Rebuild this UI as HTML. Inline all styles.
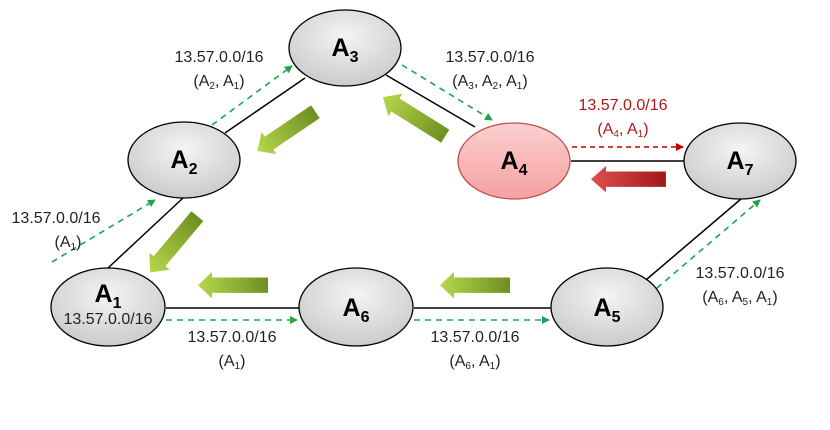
<!DOCTYPE html>
<html><head><meta charset="utf-8"><style>
body{margin:0;background:#fff}
svg text{font-family:"Liberation Sans",sans-serif}
</style></head><body>
<svg width="830" height="425" viewBox="0 0 830 425" xmlns="http://www.w3.org/2000/svg">
<defs>
<radialGradient id="g" cx="50%" cy="35%" r="70%"><stop offset="0" stop-color="#f4f4f4"/><stop offset="1" stop-color="#c8c8c8"/></radialGradient>
<linearGradient id="r" x1="0" y1="0" x2="0" y2="1"><stop offset="0" stop-color="#fbd0d0"/><stop offset="1" stop-color="#f5a0a0"/></linearGradient>
<linearGradient id="ga" x1="0" y1="0" x2="1" y2="0"><stop offset="0" stop-color="#b5d84a"/><stop offset="1" stop-color="#6f8e22"/></linearGradient>
<linearGradient id="ra" x1="0" y1="0" x2="1" y2="0"><stop offset="0" stop-color="#e05050"/><stop offset="1" stop-color="#a01818"/></linearGradient>
<marker id="mg" markerWidth="8" markerHeight="8" refX="7" refY="4" orient="auto" markerUnits="userSpaceOnUse"><path d="M0,0L8,4L0,8z" fill="#1aa84a"/></marker>
<marker id="mr" markerWidth="8" markerHeight="8" refX="7" refY="4" orient="auto" markerUnits="userSpaceOnUse"><path d="M0,0L8,4L0,8z" fill="#c00000"/></marker>
<symbol id="ba" viewBox="0 0 70 24" overflow="visible"><path d="M0,12 L14,0 L14,5 L70,5 L70,19 L14,19 L14,24 Z"/></symbol>
</defs>
<g stroke="#000" stroke-width="1.5">
<line x1="225" y1="133" x2="305" y2="78"/>
<line x1="386" y1="75" x2="475" y2="127"/>
<line x1="571" y1="161" x2="684" y2="161"/>
<line x1="741" y1="199" x2="640" y2="285"/>
<line x1="183" y1="198" x2="108" y2="268"/>
<line x1="166" y1="308" x2="299" y2="308"/>
<line x1="414" y1="308" x2="551" y2="308"/>
</g>
<g stroke="#1aa84a" stroke-width="1.6" stroke-dasharray="6,5" fill="none" marker-end="url(#mg)">
<line x1="212" y1="125" x2="292" y2="66"/>
<line x1="402" y1="65" x2="492" y2="120"/>
<line x1="52" y1="262" x2="155" y2="200"/>
<line x1="166" y1="320" x2="297" y2="320"/>
<line x1="414" y1="320" x2="549" y2="320"/>
<line x1="657" y1="288" x2="760" y2="200"/>
</g>
<line x1="572" y1="147" x2="683" y2="147" stroke="#c00000" stroke-width="1.6" stroke-dasharray="5,4" marker-end="url(#mr)"/>
<g fill="url(#ga)">
<use href="#ba" width="70" height="24" transform="translate(250,140) rotate(-34) scale(1.0,1.1)"/>
<use href="#ba" width="70" height="24" transform="translate(383,97) rotate(32) translate(0,-13) scale(1.05,1.1)"/>
<use href="#ba" width="70" height="24" transform="translate(140,264) rotate(-50) scale(1.05,1.1)"/>
<use href="#ba" width="70" height="24" transform="translate(198,272) scale(1,1.1)"/>
<use href="#ba" width="70" height="24" transform="translate(440,272) scale(1,1.1)"/>
</g>
<use href="#ba" width="70" height="24" fill="url(#ra)" transform="translate(591,166) scale(1.07,1.1)"/>
<g stroke="#000" stroke-width="1.3">
<ellipse cx="345" cy="48" rx="56" ry="38" fill="url(#g)"/>
<ellipse cx="184" cy="160" rx="56" ry="38" fill="url(#g)"/>
<ellipse cx="514" cy="161" rx="56" ry="38" fill="url(#r)" stroke="#c05050"/>
<ellipse cx="740" cy="161" rx="56" ry="38" fill="url(#g)"/>
<ellipse cx="108" cy="307" rx="57" ry="39" fill="url(#g)"/>
<ellipse cx="356" cy="307" rx="57" ry="39" fill="url(#g)"/>
<ellipse cx="607" cy="307" rx="56" ry="39" fill="url(#g)"/>
</g>
<g font-weight="bold" font-size="25" text-anchor="middle">
<text x="345" y="56">A<tspan font-size="16" dy="6">3</tspan></text>
<text x="184" y="168">A<tspan font-size="16" dy="6">2</tspan></text>
<text x="514" y="169">A<tspan font-size="16" dy="6">4</tspan></text>
<text x="740" y="169">A<tspan font-size="16" dy="6">7</tspan></text>
<text x="108" y="302">A<tspan font-size="16" dy="6">1</tspan></text>
<text x="356" y="316">A<tspan font-size="16" dy="6">6</tspan></text>
<text x="607" y="316">A<tspan font-size="16" dy="6">5</tspan></text>
</g>
<g font-size="16" text-anchor="middle" fill="#222">
<text x="108" y="324">13.57.0.0/16</text>
<text x="219" y="62">13.57.0.0/16</text>
<text x="219" y="86">(A<tspan font-size="10" dy="3">2</tspan><tspan dy="-3">, A</tspan><tspan font-size="10" dy="3">1</tspan><tspan dy="-3">)</tspan></text>
<text x="490" y="62">13.57.0.0/16</text>
<text x="490" y="86">(A<tspan font-size="10" dy="3">3</tspan><tspan dy="-3">, A</tspan><tspan font-size="10" dy="3">2</tspan><tspan dy="-3">, A</tspan><tspan font-size="10" dy="3">1</tspan><tspan dy="-3">)</tspan></text>
<text x="56" y="223">13.57.0.0/16</text>
<text x="68" y="247">(A<tspan font-size="10" dy="3">1</tspan><tspan dy="-3">)</tspan></text>
<text x="232" y="342">13.57.0.0/16</text>
<text x="232" y="366">(A<tspan font-size="10" dy="3">1</tspan><tspan dy="-3">)</tspan></text>
<text x="475" y="342">13.57.0.0/16</text>
<text x="475" y="366">(A<tspan font-size="10" dy="3">6</tspan><tspan dy="-3">, A</tspan><tspan font-size="10" dy="3">1</tspan><tspan dy="-3">)</tspan></text>
<text x="740" y="278">13.57.0.0/16</text>
<text x="740" y="302">(A<tspan font-size="10" dy="3">6</tspan><tspan dy="-3">, A</tspan><tspan font-size="10" dy="3">5</tspan><tspan dy="-3">, A</tspan><tspan font-size="10" dy="3">1</tspan><tspan dy="-3">)</tspan></text>
</g>
<g font-size="16" text-anchor="middle" fill="#b01818">
<text x="623" y="110">13.57.0.0/16</text>
<text x="623" y="134">(A<tspan font-size="10" dy="3">4</tspan><tspan dy="-3">, A</tspan><tspan font-size="10" dy="3">1</tspan><tspan dy="-3">)</tspan></text>
</g>
</svg>
</body></html>
